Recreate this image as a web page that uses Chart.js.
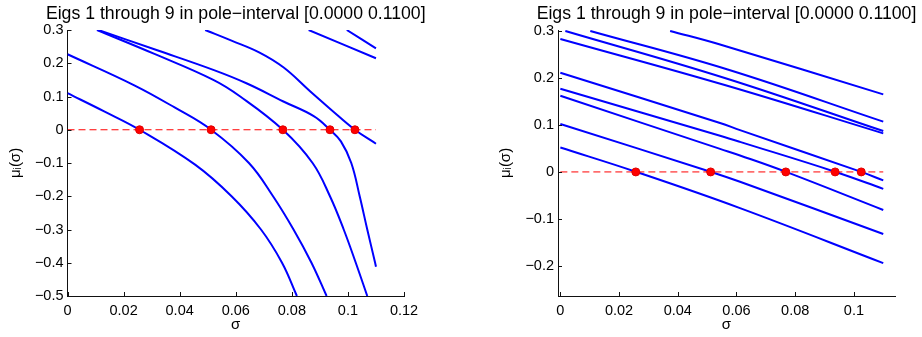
<!DOCTYPE html>
<html>
<head>
<meta charset="utf-8">
<script src="https://cdn.jsdelivr.net/npm/chart.js@4.4.1/dist/chart.umd.min.js"></script>
<style>
  html, body { margin: 0; padding: 0; background: #fff; }
  #wrap { position: relative; width: 922px; height: 337px; overflow: hidden; }
  #leftBox { position: absolute; left: 0; top: 0; width: 460px; height: 337px; }
  #rightBox { position: absolute; left: 460px; top: 0; width: 462px; height: 337px; }
</style>
</head>
<body>
<div id="wrap">
  <div id="leftBox"><canvas id="leftChart" width="460" height="337"></canvas></div>
  <div id="rightBox"><canvas id="rightChart" width="462" height="337"></canvas></div>
</div>
<script>
// Titles and labels
const plotTitle = 'Eigs 1 through 9 in pole\u2212interval [0.0000 0.1100]';
const xTitle = '\u03c3';
const yTitle = '\u03bc\u1d62(\u03c3)';

// Tick labels
const leftXTicks = [0, 0.02, 0.04, 0.06, 0.08, 0.1, 0.12];
const leftYTicks = [-0.5, -0.4, -0.3, -0.2, -0.1, 0, 0.1, 0.2, 0.3];
const rightXTicks = [0, 0.02, 0.04, 0.06, 0.08, 0.1];
const rightYTicks = [-0.2, -0.1, 0, 0.1, 0.2, 0.3];

// Zero crossings (red dots) and the dashed zero line
const zeroCrossings = [0.0257, 0.0512, 0.0768, 0.0936, 0.1025];
const zeroLineX = [0, 0.11];

// Left panel: eigenvalue curves [sigma, mu]
const leftEig1 = [[0, 0.11], [0.0129, 0.056], [0.0257, 0], [0.0455, -0.105], [0.0585, -0.2], [0.069, -0.3], [0.0765, -0.4], [0.0818, -0.5]];
const leftEig2 = [[0, 0.227], [0.024, 0.133], [0.0382, 0.067], [0.0512, 0], [0.0647, -0.1], [0.0733, -0.2], [0.0806, -0.3], [0.087, -0.4], [0.0924, -0.5]];
const leftEig3 = [[0.0105, 0.3], [0.031, 0.228], [0.052, 0.15], [0.0616, 0.1], [0.0768, 0], [0.0874, -0.1], [0.0936, -0.2], [0.0985, -0.3], [0.1028, -0.4], [0.1069, -0.5]];
const leftEig4 = [[0.011, 0.3], [0.032, 0.239], [0.052, 0.18], [0.064, 0.139], [0.077, 0.085], [0.0878, 0.041], [0.0936, 0], [0.0975, -0.035], [0.1012, -0.1], [0.1042, -0.2], [0.1069, -0.3], [0.1097, -0.4], [0.110, -0.412]];
const leftEig5 = [[0.0491, 0.3], [0.0585, 0.268], [0.0685, 0.232], [0.0771, 0.187], [0.0866, 0.115], [0.0938, 0.062], [0.1025, 0], [0.110, -0.042]];
const leftEig6 = [[0.086, 0.3], [0.110, 0.215]];
const leftEig7 = [[0.0996, 0.3], [0.110, 0.245]];

// Right panel: eigenvalue curves [sigma, mu]
const rightEig1 = [[0, 0.052], [0.0259, 0], [0.0612, -0.077], [0.110, -0.194]];
const rightEig2 = [[0, 0.102], [0.0514, 0], [0.0612, -0.021], [0.110, -0.132]];
const rightEig3 = [[0, 0.162], [0.0544, 0.049], [0.0612, 0.035], [0.0769, 0], [0.110, -0.081]];
const rightEig4 = [[0, 0.177], [0.0544, 0.077], [0.0612, 0.064], [0.0938, 0], [0.110, -0.036]];
const rightEig5 = [[0, 0.211], [0.0544, 0.104], [0.0612, 0.089], [0.1025, 0], [0.110, -0.018]];
const rightEig6 = [[0, 0.283], [0.056, 0.185], [0.110, 0.082]];
const rightEig7 = [[0.0017, 0.3], [0.056, 0.2], [0.110, 0.087]];
const rightEig8 = [[0.0102, 0.3], [0.057, 0.218], [0.110, 0.107]];
const rightEig9 = [[0.0374, 0.3], [0.0544, 0.271], [0.110, 0.165]];

const fontFamily = '"Liberation Sans", Arial, Helvetica, sans-serif';
const axisColor = '#111';

function fmtTick(v) {
    if (Math.abs(v) < 1e-9) return '0';
    const s = parseFloat(Math.abs(v).toFixed(4)).toString();
    return (v < 0 ? '\u2212' : '') + s;
}

// MATLAB style ticks pointing into the axes
const inwardTicks = {
    id: 'inwardTicks',
    afterDraw(chart) {
        const ctx = chart.ctx;
        const xs = chart.scales.x;
        const ys = chart.scales.y;
        ctx.save();
        ctx.strokeStyle = axisColor;
        ctx.lineWidth = 1;
        ctx.beginPath();
        xs.ticks.forEach(t => {
            const px = Math.round(xs.getPixelForValue(t.value)) + 0.5;
            ctx.moveTo(px, xs.top);
            ctx.lineTo(px, xs.top - 4);
        });
        ys.ticks.forEach(t => {
            const py = Math.round(ys.getPixelForValue(t.value)) + 0.5;
            ctx.moveTo(ys.right, py);
            ctx.lineTo(ys.right + 4, py);
        });
        ctx.stroke();
        ctx.restore();
    }
};

// Title centred over the plot box (not squeezed into it)
const boxTitle = {
    id: 'boxTitle',
    afterDraw(chart) {
        const a = chart.chartArea;
        const ctx = chart.ctx;
        ctx.save();
        ctx.font = '17.7px ' + fontFamily;
        ctx.fillStyle = '#000';
        ctx.textAlign = 'center';
        ctx.textBaseline = 'alphabetic';
        ctx.fillText(plotTitle, (a.left + a.right) / 2, a.top - 11);
        ctx.restore();
    }
};

function curveDataset(points) {
    return {
        data: points.map(p => ({ x: p[0], y: p[1] })),
        showLine: true,
        borderColor: '#0000ff',
        borderWidth: 2,
        pointRadius: 0,
        tension: 0.4,
        order: 3
    };
}

function markerDatasets() {
    return [
        {
            data: zeroCrossings.map(x => ({ x: x, y: 0 })),
            showLine: false,
            pointRadius: 4,
            pointBackgroundColor: '#ff0000',
            pointBorderColor: '#e00000',
            pointBorderWidth: 1,
            order: 1
        },
        {
            data: zeroLineX.map(x => ({ x: x, y: 0 })),
            showLine: true,
            borderColor: '#ff0000',
            borderWidth: 1,
            borderDash: [7, 4],
            pointRadius: 0,
            order: 2
        }
    ];
}

function makeChart(canvasId, curves, cfg) {
    const datasets = markerDatasets().concat(curves.map(curveDataset));
    return new Chart(document.getElementById(canvasId), {
        type: 'scatter',
        data: { datasets: datasets },
        options: {
            responsive: false,
            animation: false,
            layout: { padding: { left: cfg.padLeft, right: cfg.padRight, top: 30, bottom: 0 } },
            plugins: {
                legend: { display: false },
                tooltip: { enabled: false },
                title: { display: false }
            },
            scales: {
                x: {
                    type: 'linear',
                    min: cfg.xMin,
                    max: cfg.xMax,
                    afterBuildTicks: s => { s.ticks = cfg.xTicks.map(v => ({ value: v })); },
                    afterFit: s => { s.height = 41; },
                    grid: { display: false, drawTicks: false },
                    border: { display: true, color: axisColor, width: 1 },
                    ticks: {
                        color: '#000',
                        padding: 6,
                        maxRotation: 0,
                        autoSkip: false,
                        font: { family: fontFamily, size: 14.5 },
                        callback: v => fmtTick(v)
                    },
                    title: {
                        display: true,
                        text: xTitle,
                        color: '#000',
                        font: { family: fontFamily, size: 15 },
                        padding: { top: 0, bottom: 3 }
                    }
                },
                y: {
                    type: 'linear',
                    min: cfg.yMin,
                    max: cfg.yMax,
                    afterBuildTicks: s => { s.ticks = cfg.yTicks.map(v => ({ value: v })); },
                    afterFit: s => { s.width = cfg.yWidth; },
                    grid: { display: false, drawTicks: false },
                    border: { display: true, color: axisColor, width: 1 },
                    ticks: {
                        color: '#000',
                        padding: 4,
                        autoSkip: false,
                        font: { family: fontFamily, size: 14.5 },
                        callback: v => fmtTick(v)
                    },
                    title: {
                        display: true,
                        text: yTitle,
                        color: '#000',
                        font: { family: fontFamily, size: 15 },
                        padding: { top: 0, bottom: 0 }
                    }
                }
            }
        },
        plugins: [inwardTicks, boxTitle]
    });
}

function initCharts() {
    if (typeof Chart === 'undefined') {
        console.error('Chart.js not loaded');
        return;
    }

    makeChart('leftChart',
        [leftEig1, leftEig2, leftEig3, leftEig4, leftEig5, leftEig6, leftEig7],
        { xMin: 0, xMax: 0.12, yMin: -0.5, yMax: 0.3, xTicks: leftXTicks, yTicks: leftYTicks,
          padLeft: 7, padRight: 56, yWidth: 60.5 });

    makeChart('rightChart',
        [rightEig1, rightEig2, rightEig3, rightEig4, rightEig5, rightEig6, rightEig7, rightEig8, rightEig9],
        { xMin: -0.0008, xMax: 0.114, yMin: -0.264, yMax: 0.302, xTicks: rightXTicks, yTicks: rightYTicks,
          padLeft: 37, padRight: 27, yWidth: 61 });
}

document.addEventListener('DOMContentLoaded', initCharts);
</script>
</body>
</html>
